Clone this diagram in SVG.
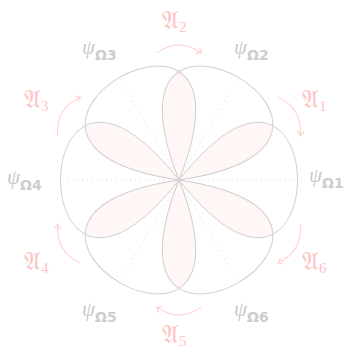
<svg xmlns="http://www.w3.org/2000/svg" xmlns:xlink="http://www.w3.org/1999/xlink" width="350" height="351" viewBox="0 0 350 351">
<style>
.loop{fill:none;stroke:#cfcfcf;stroke-width:1}
.petal{fill:#fff7f6;stroke:none}
.axis{fill:none;stroke:#d3d3d3;stroke-width:0.9;stroke-dasharray:1 3.8}
.psi{font-family:"Liberation Serif",serif;font-style:italic;font-size:21px;fill:#c9c9c9}
.om{font-family:"DejaVu Sans",sans-serif;font-style:normal;font-weight:bold;font-size:14px;fill:#cdcdcd}
.frak{font-family:"DejaVu Sans","DejaVu Serif","Noto Sans",serif;font-size:25px;fill:#ffc4c4}
.sub{font-family:"Liberation Serif",serif;font-size:15px}
.arr{fill:none;stroke:#ffcaca;stroke-width:1;marker-end:url(#tip)}
</style>
<defs>
<path id="L" d="M0,0 C158,-200 158,200 0,0Z"/>
<path id="A" d="M-22.4,-127 Q0,-143 22.4,-127"/>
<marker id="tip" markerUnits="userSpaceOnUse" markerWidth="12" markerHeight="12" viewBox="-6 -6 12 12" refX="0" refY="0" orient="auto" overflow="visible">
<path d="M-4.5,-3.4 C-2.8,-1.6 -1.2,-0.5 0,0 C-1.2,0.5 -2.8,1.6 -4.5,3.4" fill="none" stroke="#ffcaca" stroke-width="1"/>
</marker>
<clipPath id="c1"><use xlink:href="#L" href="#L" transform="translate(179,180) rotate(0)"/></clipPath>
<clipPath id="c2"><use xlink:href="#L" href="#L" transform="translate(179,180) rotate(-60)"/></clipPath>
<clipPath id="c3"><use xlink:href="#L" href="#L" transform="translate(179,180) rotate(-120)"/></clipPath>
<clipPath id="c4"><use xlink:href="#L" href="#L" transform="translate(179,180) rotate(-180)"/></clipPath>
<clipPath id="c5"><use xlink:href="#L" href="#L" transform="translate(179,180) rotate(-240)"/></clipPath>
<clipPath id="c6"><use xlink:href="#L" href="#L" transform="translate(179,180) rotate(-300)"/></clipPath>
</defs>
<g id="petals">
<g clip-path="url(#c2)"><use class="petal" href="#L" transform="translate(179,180) rotate(0)"/></g>
<g clip-path="url(#c3)"><use class="petal" href="#L" transform="translate(179,180) rotate(-60)"/></g>
<g clip-path="url(#c4)"><use class="petal" href="#L" transform="translate(179,180) rotate(-120)"/></g>
<g clip-path="url(#c5)"><use class="petal" href="#L" transform="translate(179,180) rotate(-180)"/></g>
<g clip-path="url(#c6)"><use class="petal" href="#L" transform="translate(179,180) rotate(-240)"/></g>
<g clip-path="url(#c1)"><use class="petal" href="#L" transform="translate(179,180) rotate(-300)"/></g>
</g>
<g id="axes">
<line class="axis" x1="179" y1="180" x2="295" y2="180"/>
<line class="axis" x1="179" y1="180" x2="237" y2="79.5"/>
<line class="axis" x1="179" y1="180" x2="121" y2="79.5"/>
<line class="axis" x1="179" y1="180" x2="63" y2="180"/>
<line class="axis" x1="179" y1="180" x2="121" y2="280.5"/>
<line class="axis" x1="179" y1="180" x2="237" y2="280.5"/>
</g>
<g id="omega1"><use class="loop" href="#L" transform="translate(179,180) rotate(0)"/><text class="psi" x="309" y="182">ψ<tspan class="om" dy="6">Ω1</tspan></text></g>
<g id="omega2"><use class="loop" href="#L" transform="translate(179,180) rotate(-60)"/><text class="psi" x="234" y="54">ψ<tspan class="om" dy="6">Ω2</tspan></text></g>
<g id="omega3"><use class="loop" href="#L" transform="translate(179,180) rotate(-120)"/><text class="psi" x="82" y="54">ψ<tspan class="om" dy="6">Ω3</tspan></text></g>
<g id="omega4"><use class="loop" href="#L" transform="translate(179,180) rotate(-180)"/><text class="psi" x="7" y="184">ψ<tspan class="om" dy="6">Ω4</tspan></text></g>
<g id="omega5"><use class="loop" href="#L" transform="translate(179,180) rotate(-240)"/><text class="psi" x="82" y="316">ψ<tspan class="om" dy="6">Ω5</tspan></text></g>
<g id="omega6"><use class="loop" href="#L" transform="translate(179,180) rotate(-300)"/><text class="psi" x="234" y="316">ψ<tspan class="om" dy="6">Ω6</tspan></text></g>
<g id="connectors">
<use class="arr" href="#A" transform="translate(179,180) rotate(0)"/>
<use class="arr" href="#A" transform="translate(179,180) rotate(60)"/>
<use class="arr" href="#A" transform="translate(179,180) rotate(120)"/>
<use class="arr" href="#A" transform="translate(179,180) rotate(180)"/>
<use class="arr" href="#A" transform="translate(179,180) rotate(240)"/>
<use class="arr" href="#A" transform="translate(179,180) rotate(300)"/>
</g>
<g id="labels">
<text class="frak" x="162" y="29">𝔄<tspan class="sub" dy="3">2</tspan></text>
<text class="frak" x="302" y="108">𝔄<tspan class="sub" dy="3">1</tspan></text>
<text class="frak" x="302" y="270">𝔄<tspan class="sub" dy="3">6</tspan></text>
<text class="frak" x="162" y="343">𝔄<tspan class="sub" dy="3">5</tspan></text>
<text class="frak" x="24" y="270">𝔄<tspan class="sub" dy="3">4</tspan></text>
<text class="frak" x="24" y="108">𝔄<tspan class="sub" dy="3">3</tspan></text>
</g>
</svg>
